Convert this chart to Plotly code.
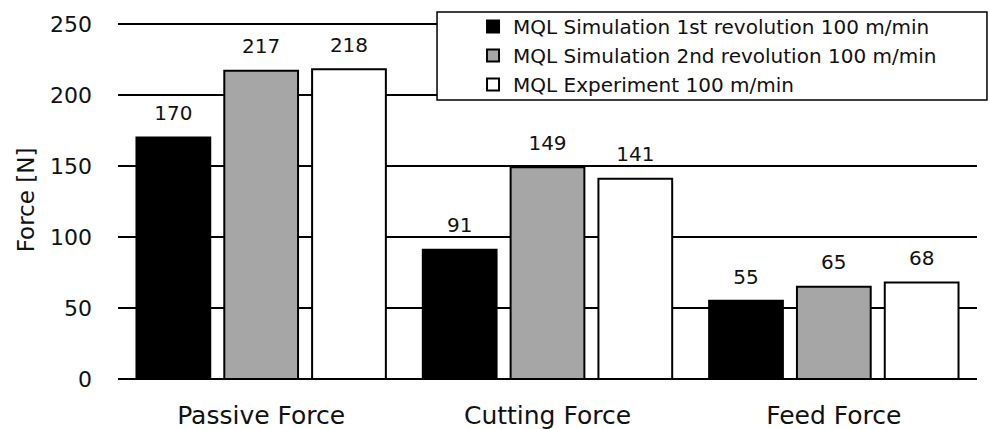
import plotly.graph_objects as go

categories = ["Passive Force", "Cutting Force", "Feed Force"]
sim_1st = [170, 91, 55]
sim_2nd = [217, 149, 65]
experiment = [218, 141, 68]
series_names = [
    "MQL Simulation 1st revolution 100 m/min",
    "MQL Simulation 2nd revolution 100 m/min",
    "MQL Experiment 100 m/min",
]
colors = ["#000000", "#a6a6a6", "#ffffff"]
y_ticks = [0, 50, 100, 150, 200, 250]

FONT = "DejaVu Sans, sans-serif"
TXT = "#111111"

fig = go.Figure()
all_series = [sim_1st, sim_2nd, experiment]
for i, (name, vals, col) in enumerate(zip(series_names, all_series, colors)):
    fig.add_trace(go.Bar(
        x=categories, y=vals, name=name,
        marker=dict(color=col, line=dict(color="#000000", width=2)),
        legendgroup=f"g{i}", offsetgroup=f"o{i}",
    ))
for i, vals in enumerate(all_series):
    fig.add_trace(go.Scatter(
        x=categories, y=vals, mode="markers+text",
        text=[str(v) for v in vals], textposition="top center",
        textfont=dict(size=20, family=FONT, color=TXT),
        marker=dict(size=18, opacity=0),
        showlegend=False, hoverinfo="skip", cliponaxis=False,
        offsetgroup=f"o{i}",
    ))

fig.add_shape(type="rect", xref="paper", yref="paper",
              x0=0.3714, x1=1.0116, y0=0.7793, y1=1.0251,
              line=dict(color="#000000", width=1.5), fillcolor="#ffffff", layer="above")

fig.update_layout(
    width=989, height=429,
    margin=dict(l=118, r=12, t=21, b=50, autoexpand=False),
    paper_bgcolor="#ffffff", plot_bgcolor="#ffffff",
    barmode="group", bargap=0.08, bargroupgap=0.16,
    scattermode="group", scattergap=0.08,
    font=dict(family=FONT, color=TXT),
    showlegend=True,
    legend=dict(
        x=0.4133, y=1.039, xanchor="left", yanchor="top",
        bgcolor="rgba(0,0,0,0)", borderwidth=0,
        font=dict(size=20, family=FONT, color=TXT),
        tracegroupgap=10, traceorder="normal",
    ),
    xaxis=dict(showgrid=False, showline=False, ticks="", ticklabelstandoff=19,
               tickfont=dict(size=25, family=FONT, color=TXT)),
    yaxis=dict(range=[0, 252], tickvals=y_ticks, showgrid=True,
               gridcolor="#000000", gridwidth=2, zeroline=True,
               zerolinecolor="#000000", zerolinewidth=2, showline=False,
               ticks="", ticklabelstandoff=25,
               tickfont=dict(size=22, family=FONT, color=TXT),
               title=dict(text="Force [N]", font=dict(size=23, family=FONT, color=TXT),
                          standoff=8)),
)

fig.write_html("out.html", config={"displayModeBar": False},
               post_script="document.body.style.margin='0';document.body.style.overflow='hidden';")
